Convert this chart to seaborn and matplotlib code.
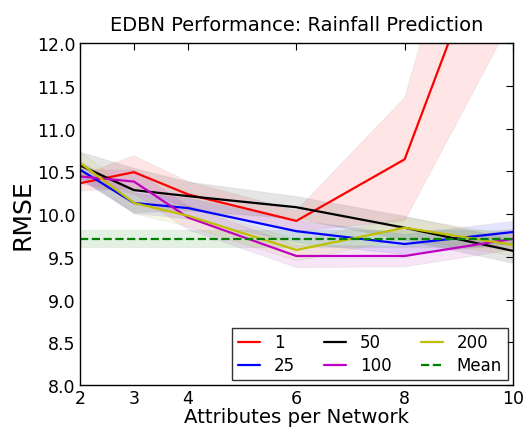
import matplotlib
matplotlib.use("Agg")
import matplotlib.pyplot as plt
import numpy as np
import pandas as pd
import seaborn as sns

# ── Data ─────────────────────────────────────────────────────────────────────
attributes = [2, 3, 4, 6, 8, 10]
series_names = ["1", "25", "50", "100", "200"]
series_colors = ["#ff0000", "#0000ff", "#000000", "#bf00bf", "#bfbf00"]

rmse_1   = [10.36, 10.49, 10.23, 9.92, 10.64, 14.00]
rmse_25  = [10.52, 10.13, 10.07, 9.80, 9.65, 9.79]
rmse_50  = [10.57, 10.28, 10.21, 10.08, 9.84, 9.57]
rmse_100 = [10.44, 10.38, 9.96, 9.51, 9.51, 9.71]
rmse_200 = [10.60, 10.13, 9.98, 9.58, 9.84, 9.64]

std_1   = [0.09, 0.19, 0.15, 0.12, 0.72, 1.70]
std_25  = [0.10, 0.12, 0.12, 0.13, 0.12, 0.13]
std_50  = [0.16, 0.26, 0.17, 0.13, 0.14, 0.14]
std_100 = [0.08, 0.14, 0.14, 0.13, 0.12, 0.12]
std_200 = [0.13, 0.12, 0.12, 0.12, 0.12, 0.12]

mean_rmse = 9.71
mean_std = 0.10

all_rmse = [rmse_1, rmse_25, rmse_50, rmse_100, rmse_200]
all_std = [std_1, std_25, std_50, std_100, std_200]

df = pd.DataFrame({
    "attributes": np.tile(attributes, len(series_names)),
    "rmse": np.concatenate(all_rmse),
    "series": np.repeat(series_names, len(attributes)),
})

# ── Plot ─────────────────────────────────────────────────────────────────────
sns.set_style("white", {"text.color": "black", "axes.labelcolor": "black",
                        "xtick.color": "black", "ytick.color": "black"})
plt.rcParams["font.family"] = ["DejaVu Sans"]

fig = plt.figure(figsize=(5.25, 4.31), dpi=100)
ax = fig.add_axes([0.152, 0.104, 0.825, 0.794])

for name, col, vals, sd in zip(series_names, series_colors, all_rmse, all_std):
    vals = np.array(vals); sd = np.array(sd)
    ax.fill_between(attributes, vals - sd, vals + sd, facecolor=col,
                    alpha=0.1, edgecolor="#888888", linewidth=0.8)

sns.lineplot(data=df, x="attributes", y="rmse", hue="series",
             hue_order=series_names, palette=series_colors, lw=1.6, ax=ax,
             errorbar=None)

ax.fill_between([2, 10], mean_rmse - mean_std, mean_rmse + mean_std,
                facecolor="green", alpha=0.11, edgecolor="#888888", linewidth=0.8)
ax.plot([2, 10], [mean_rmse, mean_rmse], "g--", lw=1.6, label="Mean")

ax.set_xlim(2, 10)
ax.set_ylim(8.0, 12.0)
ax.set_xticks(attributes)
ax.set_yticks(np.arange(8.0, 12.01, 0.5))
ax.set_yticklabels([f"{v:.1f}" for v in np.arange(8.0, 12.01, 0.5)])
ax.tick_params(direction="in", top=True, right=True, length=5,
               labelsize=12.5, colors="black")
ax.tick_params(axis="y", pad=3)
ax.tick_params(axis="x", pad=3)
for s in ax.spines.values():
    s.set_color("black")
    s.set_linewidth(1.0)

ax.set_xlabel("Attributes per Network", fontsize=14.2, labelpad=0)
ax.set_ylabel("RMSE", fontsize=18, labelpad=2)
ax.set_title("EDBN Performance: Rainfall Prediction", fontsize=14, pad=9)

handles, labels = ax.get_legend_handles_labels()
leg = ax.legend(handles, labels, loc="lower right", ncol=3, fontsize=12,
                frameon=True, fancybox=False, handlelength=1.3,
                handletextpad=0.85, columnspacing=1.75, borderaxespad=0.3,
                borderpad=0.35, labelspacing=0.3)
leg.get_frame().set_edgecolor("black")
leg.get_frame().set_linewidth(1.0)

plt.savefig("out.png", dpi=100)
plt.close()
